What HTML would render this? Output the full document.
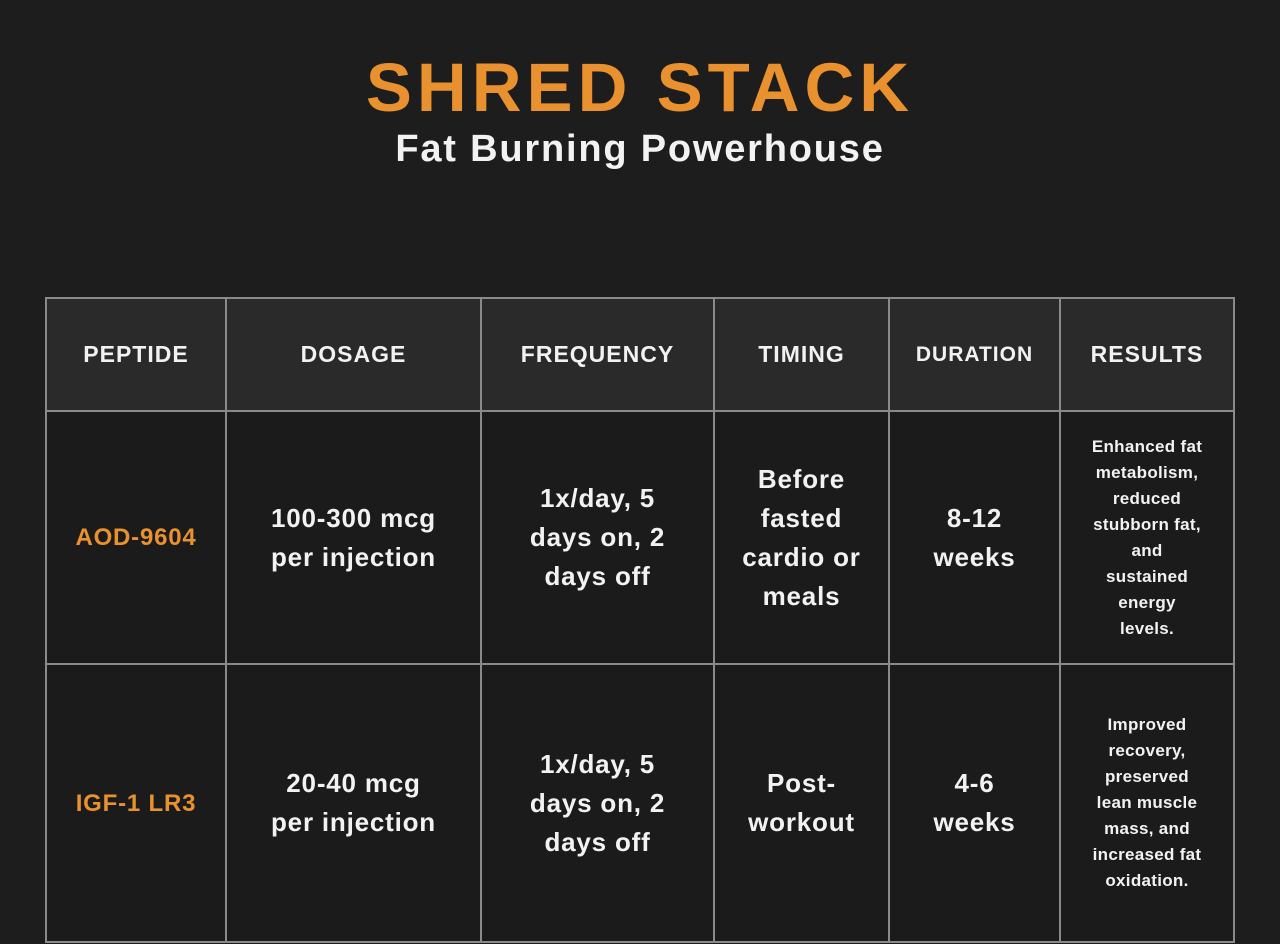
<!DOCTYPE html>
<html><head><meta charset="utf-8"><style>
body{margin:0;width:1280px;height:944px;background:#1d1d1d;font-family:"Liberation Sans",sans-serif;font-weight:bold;overflow:hidden;position:relative;color:#f2f2f2}
.t{position:absolute;left:0;width:1280px;text-align:center}
.c{position:absolute;display:flex;align-items:center;justify-content:center;text-align:center;box-sizing:border-box;border:2px solid #8a8a8a;margin:-1px 0 0 -1px}
.h{background:#2a2a2a;font-size:23px;letter-spacing:1px}
.b{background:#1b1b1b;font-size:26px;line-height:39px;letter-spacing:0.8px}
.r{font-size:17px;line-height:26px;letter-spacing:0.3px}
.o{color:#e8912e;font-size:24px}
</style></head><body>
<div class="t" style="top:48px;font-size:69px;color:#e8912e;letter-spacing:5px">SHRED STACK</div>
<div class="t" style="top:128px;font-size:38px;letter-spacing:1.8px">Fat Burning Powerhouse</div>
<div>
<div class="c h" style="left:46px;top:298px;width:182px;height:115px">PEPTIDE</div>
<div class="c h" style="left:226px;top:298px;width:257px;height:115px">DOSAGE</div>
<div class="c h" style="left:481px;top:298px;width:235px;height:115px">FREQUENCY</div>
<div class="c h" style="left:714px;top:298px;width:177px;height:115px">TIMING</div>
<div class="c h" style="left:889px;top:298px;width:173px;height:115px;font-size:21px">DURATION</div>
<div class="c h" style="left:1060px;top:298px;width:176px;height:115px">RESULTS</div>

<div class="c b o" style="left:46px;top:411px;width:182px;height:255px">AOD-9604</div>
<div class="c b" style="left:226px;top:411px;width:257px;height:255px">100-300 mcg<br>per injection</div>
<div class="c b" style="left:481px;top:411px;width:235px;height:255px">1x/day, 5<br>days on, 2<br>days off</div>
<div class="c b" style="left:714px;top:411px;width:177px;height:255px">Before<br>fasted<br>cardio or<br>meals</div>
<div class="c b" style="left:889px;top:411px;width:173px;height:255px">8-12<br>weeks</div>
<div class="c b r" style="left:1060px;top:411px;width:176px;height:255px">Enhanced fat<br>metabolism,<br>reduced<br>stubborn fat,<br>and<br>sustained<br>energy<br>levels.</div>

<div class="c b o" style="left:46px;top:664px;width:182px;height:280px">IGF-1 LR3</div>
<div class="c b" style="left:226px;top:664px;width:257px;height:280px">20-40 mcg<br>per injection</div>
<div class="c b" style="left:481px;top:664px;width:235px;height:280px">1x/day, 5<br>days on, 2<br>days off</div>
<div class="c b" style="left:714px;top:664px;width:177px;height:280px">Post-<br>workout</div>
<div class="c b" style="left:889px;top:664px;width:173px;height:280px">4-6<br>weeks</div>
<div class="c b r" style="left:1060px;top:664px;width:176px;height:280px">Improved<br>recovery,<br>preserved<br>lean muscle<br>mass, and<br>increased fat<br>oxidation.</div>
</div>
</body></html>
